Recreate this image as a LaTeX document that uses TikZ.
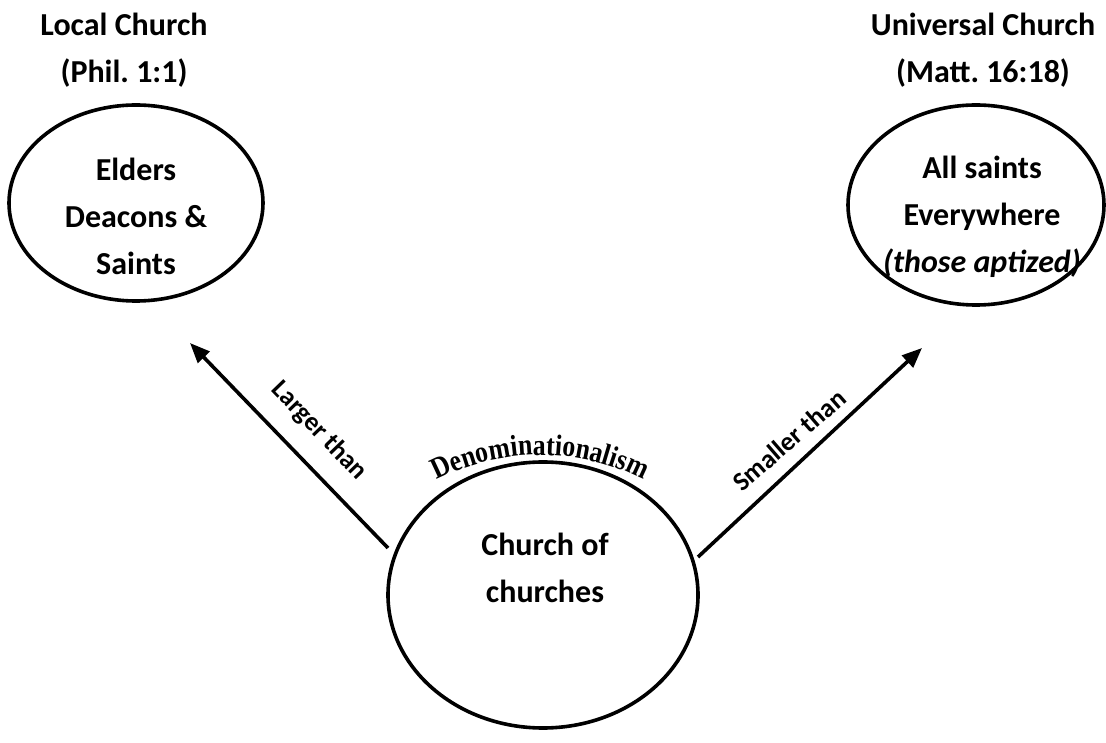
\documentclass[tikz,border=0pt]{standalone}
\usepackage{fontspec}
\setmainfont{Carlito}
\newfontfamily\denfont[FakeStretch=0.86]{Liberation Serif}
\usetikzlibrary{shapes.geometric,arrows.meta,decorations.text}
\frenchspacing
\tikzset{
  ring/.style={draw, line width=3.6pt, ellipse, inner sep=0pt},
  lbl/.style={font=\bfseries\fontsize{32}{47}\selectfont, align=center, inner sep=0pt},
  slbl/.style={font=\bfseries\fontsize{26.5}{30}\selectfont, inner sep=0pt},
  arr/.style={line width=3.6pt, -{Triangle[length=20pt,width=16pt]}}
}
\begin{document}
\begin{tikzpicture}[x=1pt,y=1pt]
\useasboundingbox (0,0) rectangle (1106,742);
% circles
\node[ring, minimum width=254pt, minimum height=196pt] (lc) at (136,539) {};
\node[ring, minimum width=256pt, minimum height=200pt] (uc) at (976,537) {};
\node[ring, minimum width=310pt, minimum height=266pt] (cc) at (543,147) {};
% titles
\node[lbl] (lt) at (124,692) {Local Church\\(Phil. 1:1)};
\node[lbl] (ut) at (983,692) {Universal Church\\(Matt. 16:18)};
% inner texts
\node[lbl] (lin) at (136,526) {Elders\\Deacons \&\\Saints};
\node[lbl] (uin) at (982,525) {All saints\\Everywhere\\\textit{(those aptized)}};
\node[lbl] (cin) at (545,174) {Church of\\churches};
% arrows
\coordinate (a1s) at (388,194);
\coordinate (a1e) at (190,399);
\coordinate (a2s) at (698,185);
\coordinate (a2e) at (922,394);
\draw[arr] (a1s) -- (a1e);
\draw[arr] (a2s) -- (a2e);
\node[slbl, rotate=-46] (lg) at (319,311) {Larger than};
\node[slbl, rotate=41] (sm) at (789,302) {Smaller than};
% curved text
\path[decorate, decoration={text along path, text align=center,
  text={|\denfont\bfseries\fontsize{30}{30}\selectfont|Denominationalism}}]
  (540,62) ++(135:225) arc[start angle=135, end angle=45, radius=225];
\end{tikzpicture}
\end{document}
